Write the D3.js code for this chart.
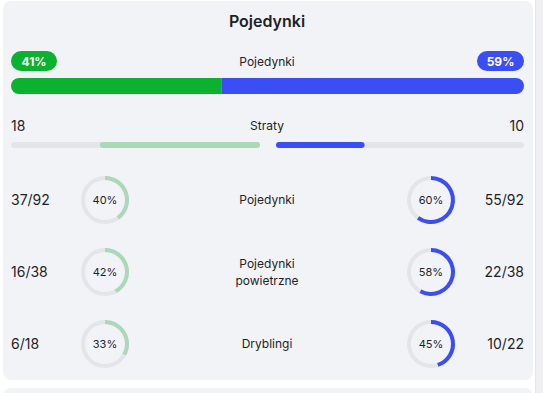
<!DOCTYPE html>
<html><head><meta charset="utf-8">
<script src="https://cdn.jsdelivr.net/npm/d3@7"></script>
<style>body{margin:0;background:#fff;}svg{display:block;font-family:Inter,"Noto Sans",sans-serif;}</style>
</head><body>
<svg id="c" width="543" height="393"></svg>
<script>
const title = "Pojedynki";
const mainLabel = "Pojedynki";
const mainPct = [41, 59];
const stratyLabel = "Straty";
const straty = [18, 10];
const categories = [["Pojedynki"], ["Pojedynki", "powietrzne"], ["Dryblingi"]];
const leftWon = [37, 16, 6];
const leftTotal = [92, 38, 18];
const leftPct = [40, 42, 33];
const rightWon = [55, 22, 10];
const rightTotal = [92, 38, 22];
const rightPct = [60, 58, 45];

const GREEN = "#0cb22f", BLUE = "#3a4ef4", LGREEN = "#abd8b6", TRACK = "#e4e5e9", BG = "#f2f3f7", TXT = "#1f1f24";
const svg = d3.select("#c");

// right stripe
svg.append("rect").attr("x", 535).attr("y", 0).attr("width", 8).attr("height", 393).attr("fill", "#f0f0f2");
svg.append("rect").attr("x", 535).attr("y", 0).attr("width", 1).attr("height", 393).attr("fill", "#e6e6e8");
// cards
svg.append("rect").attr("x", 3).attr("y", 1).attr("width", 530).attr("height", 379).attr("rx", 8).attr("fill", BG);
svg.append("rect").attr("x", 3).attr("y", 388).attr("width", 530).attr("height", 20).attr("rx", 8).attr("fill", BG);

svg.append("text").attr("x", 267).attr("y", 27).attr("text-anchor", "middle")
  .attr("font-size", 16).attr("font-weight", 600).attr("fill", TXT).text(title);

// main bar
const x = d3.scaleLinear().domain([0, 100]).range([11, 524]);
const clip = svg.append("defs").append("clipPath").attr("id", "mb");
clip.append("rect").attr("x", x(0)).attr("y", 78).attr("width", x(100) - x(0)).attr("height", 16).attr("rx", 8);
const g = svg.append("g").attr("clip-path", "url(#mb)");
g.append("rect").attr("x", x(0)).attr("y", 78).attr("width", x(mainPct[0]) - x(0)).attr("height", 16).attr("fill", GREEN);
g.append("rect").attr("x", x(mainPct[0])).attr("y", 78).attr("width", x(100) - x(mainPct[0])).attr("height", 16).attr("fill", BLUE);

// pills
svg.append("rect").attr("x", 11).attr("y", 51).attr("width", 46).attr("height", 20).attr("rx", 10).attr("fill", GREEN);
svg.append("text").attr("x", 34).attr("y", 65.5).attr("text-anchor", "middle").attr("font-size", 12).attr("font-weight", 700).attr("fill", "#fff").text(mainPct[0] + "%");
svg.append("rect").attr("x", 477).attr("y", 51).attr("width", 47).attr("height", 20).attr("rx", 10).attr("fill", BLUE);
svg.append("text").attr("x", 500.5).attr("y", 65.5).attr("text-anchor", "middle").attr("font-size", 12).attr("font-weight", 700).attr("fill", "#fff").text(mainPct[1] + "%");
svg.append("text").attr("x", 267).attr("y", 65.5).attr("text-anchor", "middle").attr("font-size", 12).attr("fill", TXT).text(mainLabel);

// straty
const tot = straty[0] + straty[1];
const sl = d3.scaleLinear().domain([0, tot]).range([260, 11]);
const sr = d3.scaleLinear().domain([0, tot]).range([276, 524]);
svg.append("text").attr("x", 11).attr("y", 131).attr("font-size", 14).attr("fill", TXT).text(straty[0]);
svg.append("text").attr("x", 524).attr("y", 131).attr("text-anchor", "end").attr("font-size", 14).attr("fill", TXT).text(straty[1]);
svg.append("text").attr("x", 267).attr("y", 130).attr("text-anchor", "middle").attr("font-size", 12).attr("fill", TXT).text(stratyLabel);
svg.append("rect").attr("x", sl(tot)).attr("y", 142).attr("width", sl(0) - sl(tot)).attr("height", 6).attr("rx", 3).attr("fill", TRACK);
svg.append("rect").attr("x", sl(straty[0])).attr("y", 142).attr("width", sl(0) - sl(straty[0])).attr("height", 6).attr("rx", 3).attr("fill", LGREEN);
svg.append("rect").attr("x", sr(0)).attr("y", 142).attr("width", sr(tot) - sr(0)).attr("height", 6).attr("rx", 3).attr("fill", TRACK);
svg.append("rect").attr("x", sr(0)).attr("y", 142).attr("width", sr(straty[1]) - sr(0)).attr("height", 6).attr("rx", 3).attr("fill", BLUE);

// circle rows
const y = d3.scalePoint().domain(d3.range(categories.length)).range([200, 344]);
const arc = d3.arc().innerRadius(20).outerRadius(24);
const ang = d3.scaleLinear().domain([0, 100]).range([0, 2 * Math.PI]);
categories.forEach((cat, i) => {
  const cy = y(i);
  svg.append("text").attr("x", 11).attr("y", cy + 5).attr("font-size", 14).attr("fill", TXT).text(leftWon[i] + "/" + leftTotal[i]);
  svg.append("text").attr("x", 524).attr("y", cy + 5).attr("text-anchor", "end").attr("font-size", 14).attr("fill", TXT).text(rightWon[i] + "/" + rightTotal[i]);
  const lines = cat;
  lines.forEach((l, k) => {
    svg.append("text").attr("x", 267).attr("y", cy + 4 - (lines.length - 1) * 8.5 + k * 17).attr("text-anchor", "middle").attr("font-size", 12).attr("fill", TXT).text(l);
  });
  [[105, leftPct[i], LGREEN], [431, rightPct[i], BLUE]].forEach(([cx, p, col]) => {
    const gg = svg.append("g").attr("transform", `translate(${cx},${cy})`);
    gg.append("path").attr("d", arc({startAngle: 0, endAngle: 2 * Math.PI})).attr("fill", TRACK);
    gg.append("path").attr("d", arc({startAngle: 0, endAngle: ang(p)})).attr("fill", col);
    gg.append("text").attr("y", 4).attr("text-anchor", "middle").attr("font-size", 11).attr("fill", TXT).text(p + "%");
  });
});
</script>
</body></html>
